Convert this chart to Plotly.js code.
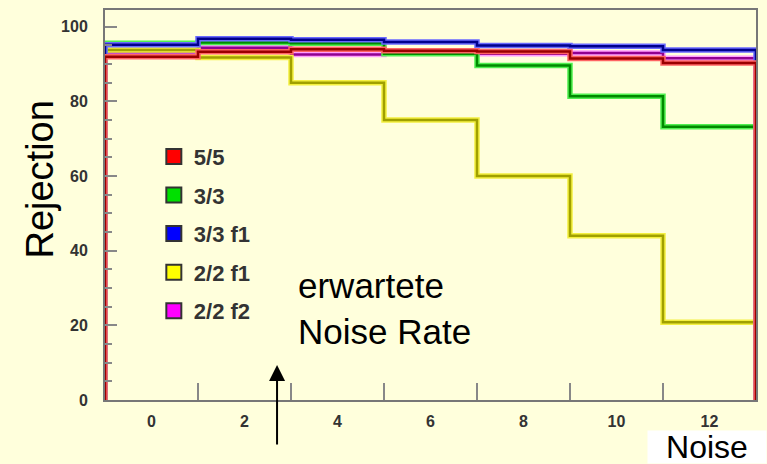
<!DOCTYPE html>
<html>
<head>
<meta charset="utf-8">
<script src="https://cdn.plot.ly/plotly-3.0.1.min.js"></script>
<style>
html,body{margin:0;padding:0;background:#FFFFDC;}
#chart{width:767px;height:464px;}
</style>
</head>
<body>
<div id="chart"></div>
<script>
// Bin edges of the noise histogram (bins centred on 0,2,...,12)
var binEdges = [-1, 1, 3, 5, 7, 9, 11, 13];
var xTickLabels = [0, 2, 4, 6, 8, 10, 12];
var yTickLabels = [0, 20, 40, 60, 80, 100];

var seriesNames = ["5/5", "3/3", "3/3 f1", "2/2 f1", "2/2 f2"];
var rej_5_5   = [92.0, 93.3, 94.0, 93.6, 93.4, 91.5, 90.3];
var rej_3_3   = [95.6, 95.8, 95.6, 92.8, 89.6, 81.4, 73.2];
var rej_3_3f1 = [95.2, 96.8, 96.5, 95.9, 95.0, 94.8, 93.8];
var rej_2_2f1 = [93.8, 91.8, 85.0, 75.0, 60.0, 44.0, 20.8];
var rej_2_2f2 = [93.2, 94.4, 92.6, 93.0, 92.8, 93.0, 91.6];

var swatch = ["#FF0000", "#00E000", "#0000FF", "#FFFF00", "#FF00FF"];
var core   = ["#9A0000", "#008A00", "#00008C", "#A0A000", "#900090"];
var halo   = ["#FF6464", "#50F050", "#6A6AFF", "#F4F040", "#FF9CFF"];

var allSeries = [rej_5_5, rej_3_3, rej_3_3f1, rej_2_2f1, rej_2_2f2];

function stepXY(vals) {
  var xs = [binEdges[0]], ys = [0];
  for (var i = 0; i < vals.length; i++) { xs.push(binEdges[i]); ys.push(vals[i]); }
  xs.push(binEdges[binEdges.length - 1]); ys.push(vals[vals.length - 1]);
  xs.push(binEdges[binEdges.length - 1]); ys.push(0);
  return {x: xs, y: ys};
}

var traces = [];
var drawOrder = [4, 3, 1, 2, 0];
drawOrder.forEach(function (k) {
  var s = stepXY(allSeries[k]);
  traces.push({x: s.x, y: s.y, type: "scatter", mode: "lines", line: {shape: "hv", color: halo[k], width: 5.5}, showlegend: false, hoverinfo: "skip"});
  traces.push({x: s.x, y: s.y, type: "scatter", mode: "lines", line: {shape: "hv", color: core[k], width: 2.5}, showlegend: false, hoverinfo: "skip"});
});
for (var k = 0; k < seriesNames.length; k++) {
  traces.push({x: [null], y: [null], type: "scatter", mode: "markers", name: seriesNames[k], legendgroup: "g" + k,
    marker: {symbol: "square", size: 15, color: swatch[k], line: {color: "#333333", width: 2}}});
}

var bigFont = {family: "Liberation Sans, Arial, sans-serif", size: 35, color: "#000000"};

var layout = {
  width: 767, height: 464,
  margin: {l: 105, r: 11, t: 10, b: 64},
  paper_bgcolor: "#FFFFDC", plot_bgcolor: "#FFFFDC",
  showlegend: true,
  legend: {x: 0.075, y: 0.678, xanchor: "left", yanchor: "top", bgcolor: "rgba(0,0,0,0)", tracegroupgap: 7,
    font: {family: "Liberation Sans, Arial, sans-serif", size: 22, color: "#333333", weight: "bold"}},
  xaxis: {range: [-1, 13], tickmode: "array", tickvals: xTickLabels, ticktext: xTickLabels.map(String), ticks: "",
    showgrid: false, zeroline: false, showline: true, linecolor: "#777777", linewidth: 2, mirror: true,
    ticklabelstandoff: 6,
    tickfont: {family: "Liberation Sans, Arial, sans-serif", size: 16, color: "#333333", weight: "bold"},
    minor: {tickmode: "array", tickvals: binEdges.slice(1, -1), ticks: "inside", ticklen: 17, tickwidth: 2, tickcolor: "#888888", showgrid: false}},
  yaxis: {range: [0, 104.5], tickmode: "array", tickvals: yTickLabels, ticks: "inside", ticklen: 12, tickwidth: 2, tickcolor: "#888888",
    showgrid: false, zeroline: false, showline: true, linecolor: "#777777", linewidth: 2, mirror: true,
    ticklabelstandoff: 12,
    tickfont: {family: "Liberation Sans, Arial, sans-serif", size: 16, color: "#333333", weight: "bold"},
    minor: {dtick: 5, ticks: "inside", ticklen: 7, tickwidth: 2, tickcolor: "#888888", showgrid: false}},
  annotations: [
    {xref: "paper", yref: "paper", x: -0.1, y: 0.565, text: "Rejection", textangle: -90, showarrow: false,
      xanchor: "center", yanchor: "middle", font: {family: "Liberation Sans, Arial, sans-serif", size: 38, color: "#000"}},
    {xref: "paper", yref: "paper", x: 0.294, y: 0.235, text: "erwartete<br>Noise Rate", showarrow: false, align: "left",
      xanchor: "left", yanchor: "middle", font: bigFont},
    {xref: "paper", yref: "paper", x: 1.017, y: -0.164, text: "Noise", showarrow: false, xanchor: "right", yanchor: "bottom",
      bgcolor: "#FFFFFF", width: 118, height: 32, borderpad: 0, align: "center", font: {family: "Liberation Sans, Arial, sans-serif", size: 32, color: "#000"}},
    {xref: "x", yref: "y", x: 2.70, y: 9.4, ax: 0, ay: 81, text: "", showarrow: true, arrowhead: 2, arrowsize: 1.6, arrowwidth: 2, arrowcolor: "#000"}
  ]
};

Plotly.newPlot("chart", traces, layout, {displayModeBar: false, staticPlot: true});
</script>
</body>
</html>
